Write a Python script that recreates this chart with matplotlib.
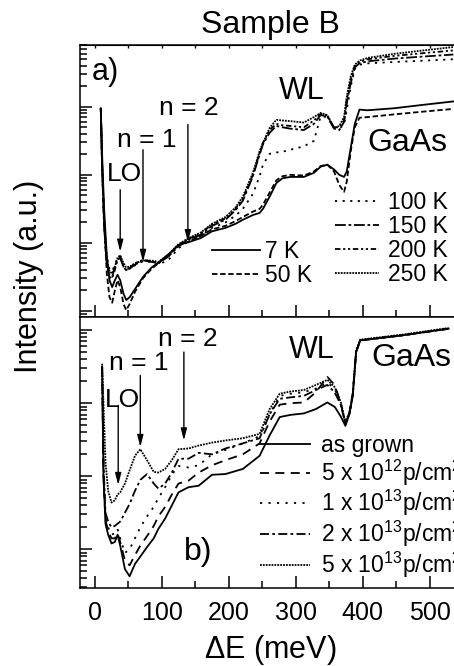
import numpy as np
import matplotlib
matplotlib.use('Agg')
import matplotlib.pyplot as plt
from matplotlib.ticker import LogLocator, MultipleLocator, NullFormatter

plt.rcParams['font.family'] = ['Liberation Sans', 'DejaVu Sans']
plt.rcParams['mathtext.fontset'] = 'custom'
plt.rcParams['mathtext.rm'] = 'Liberation Sans'

# ---- panel a): temperature series (log10 of intensity, a.u.)
E_a = [9, 11, 14, 18, 22, 26, 30, 34, 38, 43, 47, 52, 60, 72, 85, 95, 110, 125, 140, 158,
       175, 195, 210, 221, 236, 246, 251, 261, 271, 280, 292, 312, 327, 337, 347, 357, 365, 372, 376, 382,
       388, 395, 407, 447, 490, 535]
a7 = [1.98, 1.3, 0.5, -0.2, -0.55, -0.65, -0.55, -0.47, -0.55, -0.75, -0.84, -0.8, -0.68, -0.5, -0.36, -0.29, -0.17, -0.03, 0.01, 0.07,
      0.17, 0.22, 0.28, 0.34, 0.41, 0.44, 0.5, 0.68, 0.88, 0.95, 0.97, 0.97, 1.03, 1.12, 1.15, 1.08, 1.0, 0.97, 1.05, 1.4,
      1.75, 1.96, 1.95, 1.98, 2.03, 2.08]
a50 = [1.98, 1.2, 0.3, -0.45, -0.8, -0.88, -0.7, -0.55, -0.65, -0.9, -0.99, -0.9, -0.72, -0.52, -0.38, -0.3, -0.17, -0.04, 0.02, 0.1,
       0.2, 0.25, 0.32, 0.38, 0.46, 0.5, 0.56, 0.74, 0.92, 0.98, 1.0, 0.99, 1.05, 1.13, 1.15, 1.05, 0.85, 0.75, 0.9, 1.35,
       1.7, 1.84, 1.85, 1.89, 1.93, 1.97]
a100 = [1.98, 1.1, 0.3, -0.2, -0.38, -0.42, -0.32, -0.22, -0.2, -0.33, -0.38, -0.38, -0.33, -0.27, -0.28, -0.32, -0.25, -0.08, 0.03, 0.1,
        0.22, 0.3, 0.4, 0.5, 0.72, 0.98, 1.15, 1.31, 1.33, 1.34, 1.37, 1.42, 1.5, 1.86, 1.85, 1.7, 1.68, 1.74, 1.95, 2.3,
        2.56, 2.62, 2.64, 2.66, 2.68, 2.70]
a150 = [1.98, 1.1, 0.25, -0.3, -0.48, -0.5, -0.35, -0.25, -0.22, -0.36, -0.4, -0.38, -0.32, -0.26, -0.28, -0.3, -0.2, -0.05, 0.05, 0.12,
        0.25, 0.34, 0.48, 0.62, 0.98, 1.3, 1.45, 1.62, 1.72, 1.7, 1.68, 1.66, 1.75, 1.88, 1.86, 1.68, 1.66, 1.78, 2.05, 2.35,
        2.58, 2.64, 2.67, 2.71, 2.74, 2.77]
a200 = [1.98, 1.1, 0.25, -0.32, -0.5, -0.52, -0.4, -0.25, -0.2, -0.35, -0.4, -0.37, -0.3, -0.25, -0.27, -0.3, -0.18, -0.03, 0.06, 0.14,
        0.27, 0.36, 0.5, 0.65, 1.0, 1.32, 1.47, 1.66, 1.75, 1.73, 1.72, 1.70, 1.8, 1.9, 1.87, 1.7, 1.7, 1.8, 2.1, 2.4,
        2.6, 2.66, 2.7, 2.75, 2.79, 2.83]
a250 = [1.98, 1.1, 0.3, -0.25, -0.42, -0.45, -0.35, -0.22, -0.18, -0.3, -0.36, -0.35, -0.3, -0.26, -0.26, -0.28, -0.17, -0.02, 0.07, 0.15,
        0.28, 0.38, 0.52, 0.68, 1.03, 1.35, 1.47, 1.69, 1.81, 1.8, 1.79, 1.77, 1.85, 1.91, 1.88, 1.69, 1.72, 1.85, 2.15, 2.45,
        2.62, 2.68, 2.72, 2.78, 2.83, 2.88]
temp_labels = ['7 K', '50 K', '100 K', '150 K', '200 K', '250 K']

# ---- panel b): proton dose series
E_b = [11, 13, 16, 20, 25, 30, 34, 38, 45, 52, 60, 68, 78, 88, 95, 105, 115, 125, 140, 155,
       175, 195, 221, 246, 261, 276, 292, 312, 330, 347, 358, 367, 374, 380, 385, 390, 396, 460, 528]
b0 = [1.5, 0.0, -0.65, -0.8, -0.92, -0.9, -0.8, -0.95, -1.27, -1.37, -1.2, -1.1, -0.97, -0.85, -0.72, -0.58, -0.4, -0.22, -0.15, -0.13,
      0.02, 0.03, 0.1, 0.28, 0.56, 0.81, 0.84, 0.86, 0.92, 1.01, 0.95, 0.82, 0.69, 0.85, 1.1, 1.7, 1.86, 1.93, 2.02]
b1 = [1.5, 0.0, -0.6, -0.75, -0.85, -0.85, -0.78, -0.9, -1.15, -1.22, -1.08, -0.95, -0.82, -0.68, -0.55, -0.42, -0.25, -0.1, -0.06, 0.05,
      0.15, 0.22, 0.3, 0.45, 0.75, 0.98, 1.0, 1.01, 1.15, 1.36, 1.25, 1.0, 0.72, 0.86, 1.12, 1.7, 1.86, 1.93, 2.02]
b2 = [1.5, 0.1, -0.55, -0.7, -0.8, -0.78, -0.72, -0.85, -1.05, -1.0, -0.85, -0.7, -0.55, -0.42, -0.3, -0.15, 0.02, 0.14, 0.12, 0.15,
      0.3, 0.36, 0.45, 0.55, 0.85, 1.1, 1.13, 1.15, 1.2, 1.28, 1.2, 1.0, 0.72, 0.86, 1.12, 1.7, 1.86, 1.93, 2.02]
b3 = [1.5, 0.2, -0.5, -0.62, -0.7, -0.68, -0.65, -0.62, -0.5, -0.38, -0.2, -0.05, 0.03, -0.1, -0.17, -0.1, 0.05, 0.24, 0.24, 0.32,
      0.3, 0.38, 0.45, 0.52, 0.85, 1.06, 1.08, 1.1, 1.18, 1.25, 1.15, 0.98, 0.72, 0.86, 1.12, 1.7, 1.86, 1.93, 2.02]
b4 = [1.54, 1.0, 0.2, -0.2, -0.36, -0.33, -0.25, -0.22, -0.1, 0.08, 0.28, 0.37, 0.22, 0.06, 0.05, 0.1, 0.22, 0.37, 0.38, 0.42,
      0.46, 0.49, 0.52, 0.58, 0.92, 1.13, 1.16, 1.18, 1.25, 1.32, 1.22, 1.02, 0.74, 0.88, 1.14, 1.72, 1.87, 1.94, 2.03]
dose_labels = ['as grown', r'5 x 10$^{12}$p/cm$^2$', r'1 x 10$^{13}$p/cm$^2$',
               r'2 x 10$^{13}$p/cm$^2$', r'5 x 10$^{13}$p/cm$^2$']

# arrows: (label, E, log10 start, log10 end)
arrows_a = [('LO', 38, 0.78, -0.13), ('n = 1', 72, 1.37, -0.28), ('n = 2', 139, 1.74, 0.01)]
arrows_b = [('LO', 35, 0.97, -0.12), ('n = 1', 68, 1.38, 0.40), ('n = 2', 133, 1.70, 0.49)]

styles_a = ['-', (0, (3, 1.5)), (0, (1.2, 3)), (0, (6, 1.5, 1.5, 1.5)), (0, (3, 1.5, 1.2, 1.5, 1.2, 1.5)), (0, (1, 0.6))]
styles_b = ['-', (0, (5, 3.5)), (0, (1.2, 3.5)), (0, (5, 1.8, 1.5, 1.8)), (0, (1, 0.6))]

W, H = 454, 666
fig = plt.figure(figsize=(W / 100, H / 100), dpi=100)
ax1 = fig.add_axes([80 / W, 1 - 317 / H, 380 / W, 272 / H])
ax2 = fig.add_axes([80 / W, 1 - 588 / H, 380 / W, 271 / H])

lines_a = []
for y, ls, lab in zip([a7, a50, a100, a150, a200, a250], styles_a, temp_labels):
    l, = ax1.plot(E_a, 10 ** np.array(y), color='k', lw=1.3, ls=ls, label=lab)
    lines_a.append(l)
lines_b = []
for y, ls, lab in zip([b0, b1, b2, b3, b4], styles_b, dose_labels):
    l, = ax2.plot(E_b, 10 ** np.array(y), color='k', lw=1.3, ls=ls, label=lab)
    lines_b.append(l)

ax1.set_ylim(10 ** -1.09, 10 ** 2.91)
ax2.set_ylim(10 ** -1.53, 10 ** 2.18)

for ax in (ax1, ax2):
    ax.set_yscale('log')
    ax.set_xlim(-22, 545)
    ax.xaxis.set_major_locator(MultipleLocator(100))
    ax.xaxis.set_minor_locator(MultipleLocator(50))
    ax.yaxis.set_major_locator(LogLocator(base=10))
    ax.yaxis.set_minor_locator(LogLocator(base=10, subs=np.arange(2, 10)))
    ax.yaxis.set_major_formatter(NullFormatter())
    ax.yaxis.set_minor_formatter(NullFormatter())
    ax.tick_params(which='both', direction='in', right=False, top=False, width=1.1)
    ax.tick_params(which='major', length=8.5)
    ax.tick_params(which='minor', length=5)
    for s in ax.spines.values():
        s.set_linewidth(1.1)
ax1.tick_params(axis='x', labelbottom=False)
ax2.tick_params(axis='x', labelsize=18, pad=9)

# short ticks along the top edge of panel a)
top = ax1.secondary_xaxis('top')
top.xaxis.set_major_locator(MultipleLocator(50))
top.tick_params(direction='in', length=2.5, width=1.0, labeltop=False)

for ax, arrs in ((ax1, arrows_a), (ax2, arrows_b)):
    for lab, e, l0, l1 in arrs:
        ax.annotate('', xy=(e, 10 ** l1), xytext=(e, 10 ** l0),
                    arrowprops=dict(arrowstyle='-|>,head_length=0.7,head_width=0.18',
                                    color='k', lw=1.0, shrinkA=0, shrinkB=0))

ax1.text(141, 10 ** 1.99, 'n = 2', fontsize=19, ha='center', va='center')
ax1.text(77, 10 ** 1.51, 'n = 1', fontsize=19, ha='center', va='center')
ax1.text(45, 10 ** 1.01, 'LO', fontsize=19, ha='center', va='center')
ax1.text(309, 10 ** 2.24, 'WL', fontsize=22, ha='center', va='center')
ax1.text(466, 10 ** 1.47, 'GaAs', fontsize=23, ha='center', va='center')
ax1.text(-5, 10 ** 2.51, 'a)', fontsize=22, ha='left', va='center')

ax2.text(139, 10 ** 1.88, 'n = 2', fontsize=19, ha='center', va='center')
ax2.text(66, 10 ** 1.55, 'n = 1', fontsize=19, ha='center', va='center')
ax2.text(41, 10 ** 1.04, 'LO', fontsize=19, ha='center', va='center')
ax2.text(324, 10 ** 1.73, 'WL', fontsize=22, ha='center', va='center')
ax2.text(472, 10 ** 1.62, 'GaAs', fontsize=23, ha='center', va='center')
ax2.text(154, 10 ** -1.04, 'b)', fontsize=23, ha='center', va='center')

leg1 = ax1.legend(handles=lines_a[:2], loc='upper left', bbox_to_anchor=(212 / W, 1 - 240 / H),
                  bbox_transform=fig.transFigure, frameon=False, fontsize=16.5, handlelength=2.1,
                  handletextpad=0.2, labelspacing=0.05, borderpad=0, borderaxespad=0)
ax1.add_artist(leg1)
ax1.legend(handles=lines_a[2:], loc='upper left', bbox_to_anchor=(335 / W, 1 - 191 / H),
           bbox_transform=fig.transFigure, frameon=False, fontsize=16.5, handlelength=1.9,
           handletextpad=0.4, labelspacing=0.05, borderpad=0, borderaxespad=0)
ax2.legend(handles=lines_b, loc='upper left', bbox_to_anchor=(260 / W, 1 - 434 / H),
           bbox_transform=fig.transFigure, frameon=False, fontsize=16.5, handlelength=2.2,
           handletextpad=0.45, labelspacing=0.02, borderpad=0, borderaxespad=0)

fig.text(270 / W, 1 - 25 / H, 'Sample B', fontsize=23, ha='center', va='center')
fig.text(270 / W, 1 - 650 / H, r'$\Delta$E (meV)', fontsize=22, ha='center', va='center')
fig.text(29 / W, 1 - 276 / H, 'Intensity (a.u.)', fontsize=22, rotation=90, ha='center', va='center')

fig.savefig('out.png', dpi=100)
